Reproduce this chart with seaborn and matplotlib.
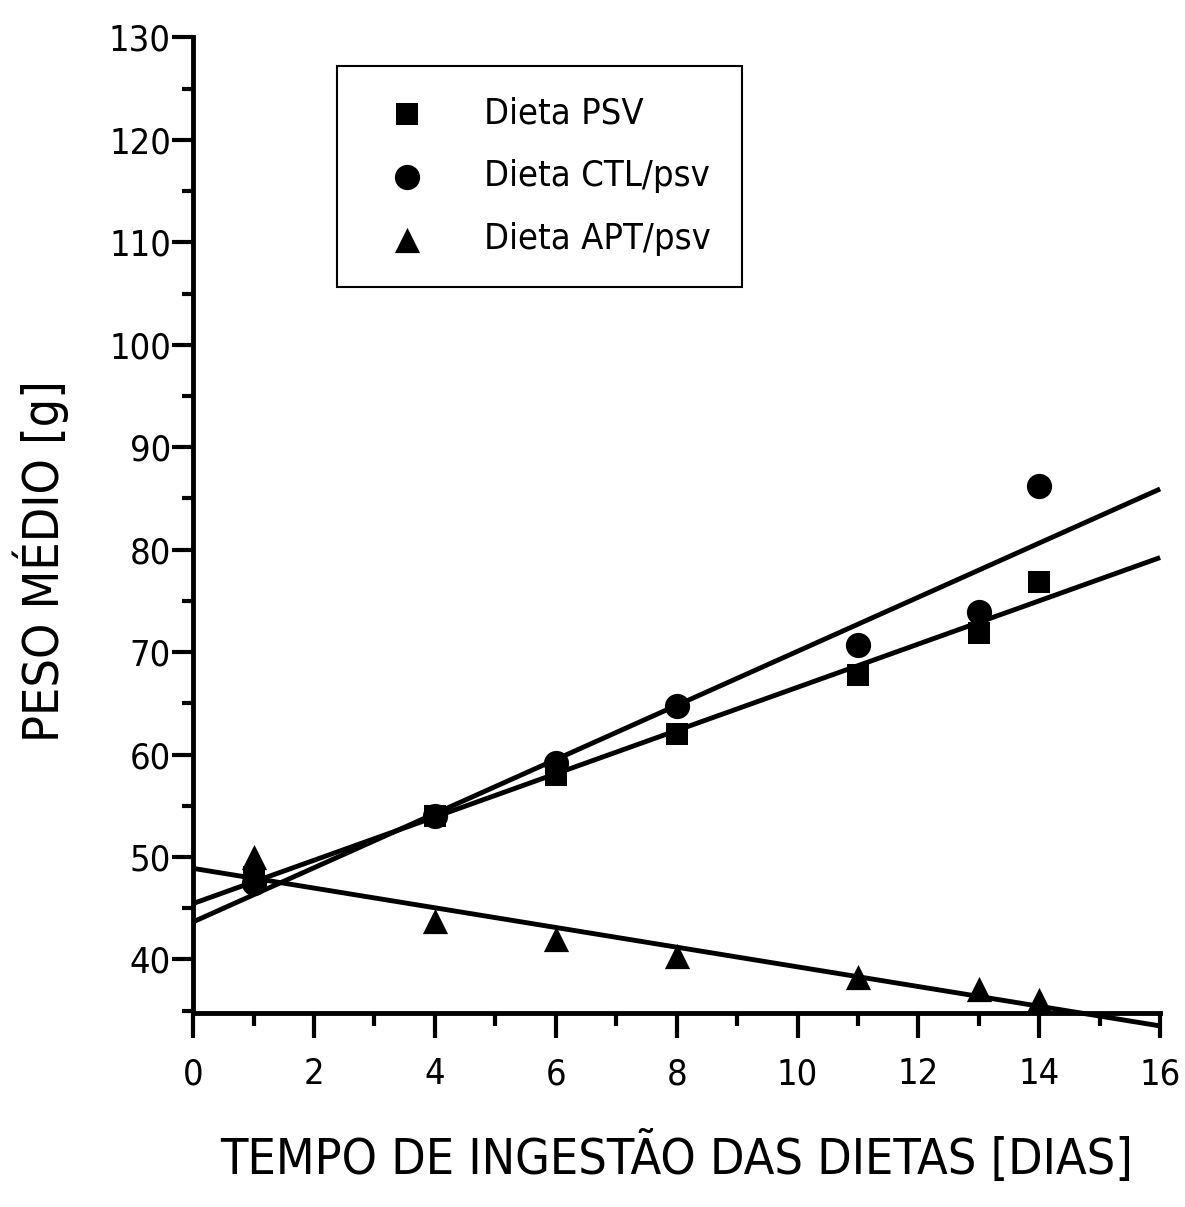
import matplotlib as mpl
mpl.use('Agg')
import matplotlib.pyplot as plt
import seaborn as sns
import pandas as pd
from matplotlib.ticker import MultipleLocator

# dias de ingestao e peso medio (g)
dias = [1, 4, 6, 8, 11, 13, 14]
peso_psv = [48.0, 54.0, 58.0, 62.0, 67.8, 71.9, 76.8]
peso_ctl = [47.5, 54.0, 59.2, 64.7, 70.7, 73.9, 86.2]
peso_apt = [50.0, 43.7, 42.0, 40.3, 38.3, 37.1, 36.0]

dietas = ['Dieta PSV', 'Dieta CTL/psv', 'Dieta APT/psv']
marcadores = ['s', 'o', '^']
tamanhos = [270, 330, 330]

sns.set_theme(style='ticks')
plt.rcParams['font.family'] = ['DejaVu Sans']
plt.rcParams['font.stretch'] = 'condensed'
plt.rcParams['text.color'] = 'black'
plt.rcParams['xtick.color'] = 'black'
plt.rcParams['ytick.color'] = 'black'
plt.rcParams['axes.labelcolor'] = 'black'

fig = plt.figure(figsize=(11.85, 12.07), dpi=100)
ax = fig.add_axes([0.163, 0.161, 0.816, 0.808])
ax.set_xlim(0, 16)
ax.set_ylim(34.8, 130)

for label, peso, mk, s in zip(dietas, [peso_psv, peso_ctl, peso_apt], marcadores, tamanhos):
  df = pd.DataFrame({'dias': dias, 'peso': peso})
  sns.regplot(data=df, x='dias', y='peso', ax=ax, ci=None, truncate=False,
              marker=mk, color='black', label=label,
              scatter_kws={'s': s, 'alpha': 1, 'linewidths': 0, 'clip_on': False, 'zorder': 3},
              line_kws={'lw': 3.5, 'clip_on': False, 'solid_capstyle': 'butt'})

ax.set_xlim(0, 16)
ax.set_ylim(34.8, 130)

ax.xaxis.set_major_locator(MultipleLocator(2))
ax.xaxis.set_minor_locator(MultipleLocator(1))
ax.yaxis.set_minor_locator(MultipleLocator(5))
ax.set_yticks(range(40, 131, 10))

for side in ['top', 'right']:
  ax.spines[side].set_visible(False)
for side in ['left', 'bottom']:
  ax.spines[side].set_linewidth(3.5)
  ax.spines[side].set_color('black')

ax.tick_params(which='both', direction='out', width=3)
ax.tick_params(axis='x', which='major', length=18, pad=14, labelsize=26)
ax.tick_params(axis='x', which='minor', length=9.5)
ax.tick_params(axis='y', which='major', length=15, pad=1, labelsize=26)
ax.tick_params(axis='y', which='minor', length=8)

ax.set_xlabel('TEMPO DE INGESTÃO DAS DIETAS [DIAS]', fontsize=36)
ax.set_ylabel('PESO MÉDIO [g]', fontsize=36)
ax.xaxis.label.set_va('center')
ax.yaxis.label.set_va('center')
ax.xaxis.set_label_coords(0.5, -0.149)
ax.yaxis.set_label_coords(-0.158, 0.463)

leg = ax.legend(loc='upper left', bbox_to_anchor=(0.149, 0.971), borderaxespad=0,
                frameon=True, fancybox=False, edgecolor='black', fontsize=26,
                handlelength=2.17, handletextpad=1.05, labelspacing=0.8, borderpad=0.85,
                scatterpoints=1)
leg.get_frame().set_linewidth(1.5)
leg.get_frame().set_alpha(1)

fig.savefig('out.png', dpi=100)
